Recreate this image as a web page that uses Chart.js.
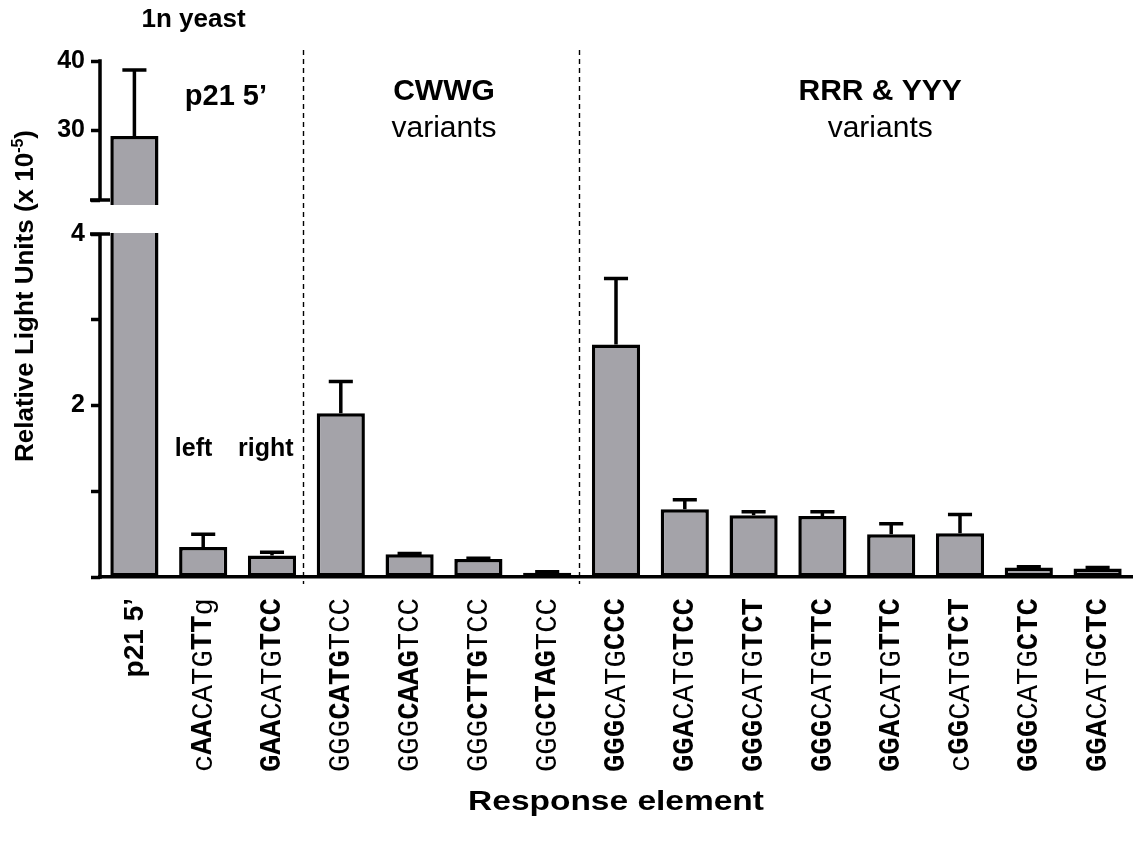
<!DOCTYPE html>
<html>
<head>
<meta charset="utf-8">
<script src="https://cdn.jsdelivr.net/npm/chart.js@4.4.1/dist/chart.umd.min.js"></script>
<style>
  html, body { margin: 0; padding: 0; background: #fff; }
  #wrap { width: 1137px; height: 845px; }
</style>
</head>
<body>
<div id="wrap"><canvas id="chart" width="1137" height="845"></canvas></div>
<script>
// Response elements; [..] marks the bases printed in bold
const categories = [
  'p21 5’',
  'c[AA]CATG[TT]g',
  '[GAA]CATG[TCC]',
  'GGG[CATG]TCC',
  'GGG[CAAG]TCC',
  'GGG[CTTG]TCC',
  'GGG[CTAG]TCC',
  '[GGG]CATG[CCC]',
  '[GGA]CATG[TCC]',
  '[GGG]CATG[TCT]',
  '[GGG]CATG[TTC]',
  '[GGA]CATG[TTC]',
  'c[GG]CATG[TCT]',
  '[GGG]CATG[CTC]',
  '[GGA]CATG[CTC]'
];
const isSequence = [false, true, true, true, true, true, true, true, true, true, true, true, true, true, true];

// Relative light units (x 10^-5), mean and upper error
const meanRLU = [29.2, 0.35, 0.25, 1.91, 0.265, 0.21, 0.05, 2.71, 0.79, 0.72, 0.71, 0.50, 0.51, 0.11, 0.10];
const semRLU  = [9.5, 0.15, 0.04, 0.37, 0.01, 0.01, 0.01, 0.77, 0.11, 0.04, 0.05, 0.12, 0.22, 0.01, 0.01];

// Broken value axis: 0–4 below the break, 20–40 above it
const yTickValues = [0, 1, 2, 3, 4, 20, 30, 40];
const yTickLabels = ['', '', '2', '', '4', '', '30', '40'];
const breakFrom = 4;
const breakTo = 20;

const yTitleMain = 'Relative Light Units (x 10';
const yTitleSup = '-5';
const yTitleTail = ')';
const xTitle = 'Response element';

// Dashed separators follow these category indices
const groupEndsAfter = [2, 6];

const SANS = "'Liberation Sans', Arial, Helvetica, sans-serif";
const MONO = "'Liberation Mono', 'Courier New', monospace";

// share of the axis length given to each piece of the broken axis
const axisPieces = [
  { from: 0, to: breakFrom, share: 343 / 516 },
  { from: breakFrom, to: breakTo, share: 34 / 516 },
  { from: breakTo, to: 40, share: 139 / 516 }
];

function valueToDecimal(v) {
  let acc = 0;
  for (let i = 0; i < axisPieces.length; i++) {
    const p = axisPieces[i];
    if (v <= p.to || i === axisPieces.length - 1) {
      return acc + (v - p.from) / (p.to - p.from) * p.share;
    }
    acc += p.share;
  }
  return acc;
}
function decimalToValue(d) {
  let acc = 0;
  for (let i = 0; i < axisPieces.length; i++) {
    const p = axisPieces[i];
    if (d <= acc + p.share || i === axisPieces.length - 1) {
      return p.from + (d - acc) / p.share * (p.to - p.from);
    }
    acc += p.share;
  }
  return 0;
}

class BrokenLinearScale extends Chart.LinearScale {
  getPixelForValue(value) {
    if (value === null || value === undefined || Number.isNaN(+value)) return NaN;
    return this.getPixelForDecimal(valueToDecimal(+value));
  }
  getValueForPixel(pixel) {
    return decimalToValue(this.getDecimalForPixel(pixel));
  }
}
BrokenLinearScale.id = 'brokenLinear';
BrokenLinearScale.defaults = Chart.LinearScale.defaults;
Chart.register(BrokenLinearScale);

function splitMarks(label) {
  return label.split(/(\[[^\]]*\])/).filter(s => s.length).map(s =>
    s[0] === '[' ? { text: s.slice(1, -1), bold: true } : { text: s, bold: false });
}
const plainLabels = categories.map(l => l.replace(/[\[\]]/g, ''));

function drawText(ctx, text, x, y, font, align, scaleX) {
  ctx.save();
  ctx.font = font;
  ctx.fillStyle = '#000';
  ctx.textBaseline = 'alphabetic';
  ctx.translate(x, y);
  ctx.scale(scaleX || 1, 1);
  ctx.textAlign = align || 'center';
  ctx.fillText(text, 0, 0);
  ctx.restore();
}

const decorations = {
  id: 'decorations',
  afterDatasetsDraw(chart, args, opts) {
    const { ctx, chartArea, scales: { x, y } } = chart;
    const meta = chart.getDatasetMeta(0);

    // white band through bars that cross the axis break
    const gapTop = y.getPixelForValue(breakTo) + 5;
    const gapBottom = y.getPixelForValue(breakFrom) - 1;
    meta.data.forEach((bar, i) => {
      if (meanRLU[i] > breakFrom) {
        ctx.fillStyle = '#fff';
        ctx.fillRect(bar.x - bar.width / 2 - 4, gapTop, bar.width + 8, gapBottom - gapTop);
      }
    });

    // upper error whiskers
    ctx.save();
    ctx.strokeStyle = '#000';
    ctx.lineWidth = opts.lineWidth;
    ctx.lineCap = 'butt';
    meta.data.forEach((bar, i) => {
      const yTop = y.getPixelForValue(meanRLU[i] + semRLU[i]);
      const yBar = y.getPixelForValue(meanRLU[i]);
      const half = bar.width / 4;
      ctx.beginPath();
      ctx.moveTo(bar.x, yBar);
      ctx.lineTo(bar.x, yTop);
      ctx.moveTo(bar.x - half, yTop);
      ctx.lineTo(bar.x + half, yTop);
      ctx.stroke();
    });

    // broken value axis line with end caps at the break
    const ax = chartArea.left;
    const lw = opts.lineWidth;
    ctx.beginPath();
    ctx.moveTo(ax, y.getPixelForValue(40) - lw / 2);
    ctx.lineTo(ax, y.getPixelForValue(breakTo));
    ctx.moveTo(ax, y.getPixelForValue(breakFrom));
    ctx.lineTo(ax, y.getPixelForValue(0) + lw / 2);
    ctx.moveTo(ax - opts.capHalf, y.getPixelForValue(breakTo));
    ctx.lineTo(ax + opts.capHalf, y.getPixelForValue(breakTo));
    ctx.moveTo(ax - opts.capHalf, y.getPixelForValue(breakFrom));
    ctx.lineTo(ax + opts.capHalf, y.getPixelForValue(breakFrom));
    ctx.stroke();
    ctx.restore();
  },
  afterDraw(chart, args, opts) {
    const { ctx, chartArea, scales: { x, y } } = chart;

    // dashed group separators
    ctx.save();
    ctx.strokeStyle = '#000';
    ctx.lineWidth = 1.4;
    ctx.setLineDash([5, 4]);
    groupEndsAfter.forEach(i => {
      const sx = Math.round((x.getPixelForValue(i) + x.getPixelForValue(i + 1)) / 2 - 3) + 0.5;
      ctx.beginPath();
      ctx.moveTo(sx, opts.dividerTop);
      ctx.lineTo(sx, opts.dividerBottom);
      ctx.stroke();
    });
    ctx.restore();

    // annotation texts placed at category positions
    opts.notes.forEach(n => {
      drawText(ctx, n.text, x.getPixelForValue(n.at), n.y, n.font, 'center', n.sx);
    });

    // rotated category labels, right-aligned against the axis
    categories.forEach((label, i) => {
      const cx = x.getPixelForValue(i);
      ctx.save();
      ctx.translate(cx, opts.labelTop);
      ctx.rotate(-Math.PI / 2);
      ctx.fillStyle = '#000';
      ctx.textBaseline = 'middle';
      if (!isSequence[i]) {
        ctx.font = `bold ${opts.refLabelSize}px ${SANS}`;
        ctx.textAlign = 'right';
        ctx.fillText(label, 0, 1);
      } else {
        const parts = splitMarks(label);
        ctx.textAlign = 'left';
        ctx.font = `${opts.seqLabelSize}px ${MONO}`;
        const total = ctx.measureText(plainLabels[i]).width;
        let pos = -total;
        parts.forEach(p => {
          ctx.font = `${p.bold ? 'bold ' : ''}${opts.seqLabelSize}px ${MONO}`;
          ctx.fillText(p.text, pos, 1);
          pos += ctx.measureText(p.text).width;
        });
      }
      ctx.restore();
    });

    // value axis title with superscript exponent
    ctx.save();
    ctx.translate(opts.yTitleX, opts.yTitleY);
    ctx.rotate(-Math.PI / 2);
    ctx.fillStyle = '#000';
    ctx.textBaseline = 'alphabetic';
    ctx.textAlign = 'left';
    const big = `bold 26px ${SANS}`, small = `bold 16px ${SANS}`;
    ctx.font = big;
    const w1 = ctx.measureText(yTitleMain).width, w3 = ctx.measureText(yTitleTail).width;
    ctx.font = small;
    const w2 = ctx.measureText(yTitleSup).width;
    let px = -(w1 + w2 + w3) / 2;
    ctx.font = big; ctx.fillText(yTitleMain, px, 0); px += w1;
    ctx.font = small; ctx.fillText(yTitleSup, px, -10); px += w2;
    ctx.font = big; ctx.fillText(yTitleTail, px, 0);
    ctx.restore();

    // category axis title
    drawText(ctx, xTitle, (chartArea.left + chartArea.right) / 2, opts.xTitleY, `bold 27px ${SANS}`, 'center', opts.xTitleSx);
  }
};

new Chart(document.getElementById('chart'), {
  type: 'bar',
  data: {
    labels: plainLabels,
    datasets: [{
      data: meanRLU,
      backgroundColor: '#a4a3a9',
      borderColor: '#000',
      borderWidth: 3.5,
      borderSkipped: false,
      barPercentage: 0.7,
      categoryPercentage: 1.0
    }]
  },
  options: {
    responsive: false,
    animation: false,
    layout: { padding: { top: 61, right: 5, left: 0, bottom: 0 } },
    plugins: {
      legend: { display: false },
      tooltip: { enabled: false },
      decorations: {
        lineWidth: 3.5,
        capHalf: 10,
        dividerTop: 50,
        dividerBottom: 584,
        labelTop: 598,
        seqLabelSize: 29,
        refLabelSize: 28,
        yTitleX: 33,
        yTitleY: 296,
        xTitleY: 810,
        xTitleSx: 1.24,
        notes: [
          { text: '1n yeast', at: 0.86, y: 27, font: `bold 26px ${SANS}`, sx: 1 },
          { text: 'p21 5’', at: 1.33, y: 105, font: `bold 29px ${SANS}`, sx: 1 },
          { text: 'CWWG', at: 4.5, y: 100, font: `bold 30px ${SANS}`, sx: 1 },
          { text: 'variants', at: 4.5, y: 137, font: `30px ${SANS}`, sx: 1 },
          { text: 'RRR & YYY', at: 10.84, y: 100, font: `bold 30px ${SANS}`, sx: 1 },
          { text: 'variants', at: 10.84, y: 137, font: `30px ${SANS}`, sx: 1 },
          { text: 'left', at: 0.86, y: 456, font: `bold 25px ${SANS}`, sx: 1 },
          { text: 'right', at: 1.91, y: 456, font: `bold 25px ${SANS}`, sx: 1 }
        ]
      }
    },
    scales: {
      x: {
        type: 'category',
        offset: true,
        grid: { display: false, drawTicks: false },
        border: { display: true, color: '#000', width: 3.5 },
        ticks: { display: false },
        afterFit(scale) { scale.height = 268; }
      },
      y: {
        type: 'brokenLinear',
        min: 0,
        max: 40,
        afterFit(scale) { scale.width = 100; },
        afterBuildTicks(scale) { scale.ticks = yTickValues.map(v => ({ value: v })); },
        ticks: {
          color: '#000',
          padding: 6,
          font: { family: SANS, size: 25, weight: 'bold' },
          callback: (v) => yTickLabels[yTickValues.indexOf(v)]
        },
        grid: { drawOnChartArea: false, drawTicks: true, tickLength: 9, tickWidth: 3.5, tickColor: '#000' },
        border: { display: false }
      }
    }
  },
  plugins: [decorations]
});
</script>
</body>
</html>
